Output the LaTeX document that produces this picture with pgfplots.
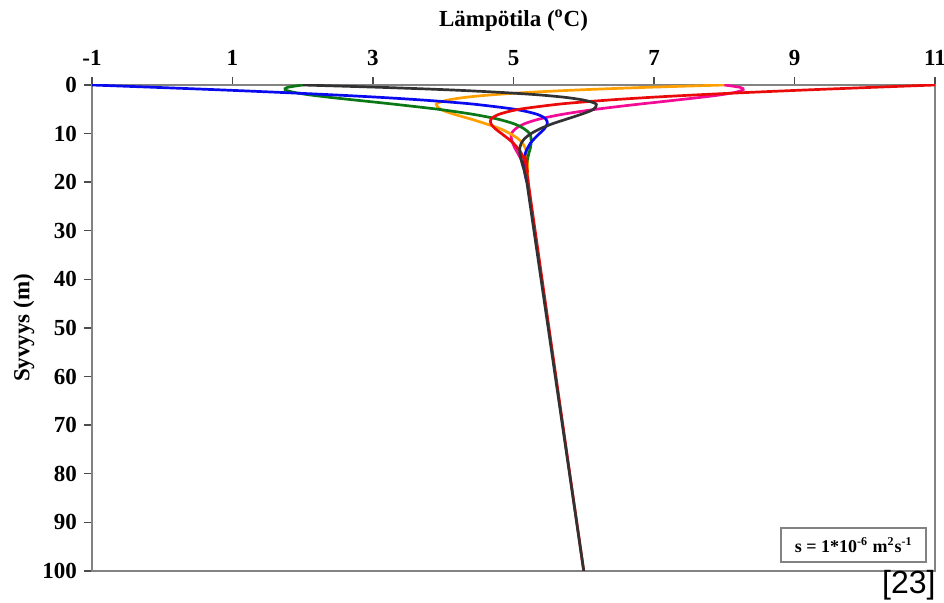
\documentclass[border=0pt]{standalone}
\usepackage{pgfplots}
\pgfplotsset{compat=1.18}
\usepackage{fontspec}
\setmainfont{Liberation Serif}
\newfontfamily\arialfont{Liberation Sans}
\definecolor{cblue}{RGB}{10,10,240}
\definecolor{cgreen}{RGB}{10,120,20}
\definecolor{corange}{RGB}{255,160,0}
\definecolor{cblack}{RGB}{50,50,50}
\definecolor{cred}{RGB}{235,10,10}
\definecolor{cmag}{RGB}{245,10,150}
\definecolor{axgray}{RGB}{130,130,130}
\begin{document}
\begin{tikzpicture}
\useasboundingbox (-46pt,-16pt) rectangle (426pt,285.5pt);
\begin{axis}[
  at={(0,0)}, anchor=south west,
  scale only axis, width=421.5pt, height=243pt,
  xmin=-1, xmax=11, ymin=0, ymax=100,
  y dir=reverse,
  xtick={-1,1,3,5,7,9,11},
  ytick={0,10,...,100},
  xtick pos=right, xticklabel pos=right,
  ytick pos=left,
  tick align=outside,
  major tick length=4pt,
  axis line style={axgray, line width=1.1pt},
  every tick/.style={black!70, line width=0.7pt},
  tick label style={font=\fontsize{11.5}{12}\selectfont\bfseries},
  xticklabel style={yshift=2pt},
  /pgf/number format/assume math mode=true,
  clip=true,
]
\addplot[cmag, line width=1.35pt, smooth] table {
8.00 0
8.23 0.5
8.27 1
8.16 1.5
7.96 2
7.69 2.5
7.38 3
7.07 3.5
6.75 4
6.17 5
5.71 6
5.37 7
5.15 8
5.03 9
4.97 10
4.97 11
4.99 12
5.02 13
5.06 14
5.13 16
5.18 18
5.21 20
};
\addplot[corange, line width=1.35pt, smooth] table {
8.00 0
6.86 0.5
5.95 1
5.24 1.5
4.71 2
4.34 2.5
4.10 3
3.96 3.5
3.90 4
3.96 5
4.15 6
4.39 7
4.61 8
4.81 9
4.95 10
5.06 11
5.13 12
5.17 13
5.19 14
5.20 16
5.20 18
5.21 20
};
\addplot[cgreen, line width=1.35pt, smooth] table {
2.00 0
1.78 0.5
1.75 1
1.87 1.5
2.08 2
2.36 2.5
2.68 3
3.01 3.5
3.33 4
3.93 5
4.41 6
4.77 7
5.01 8
5.15 9
5.23 10
5.25 11
5.25 12
5.24 13
5.22 14
5.19 16
5.18 18
5.20 20
};
\addplot[cblue, line width=1.35pt, smooth] table {
-1.00 0
-0.07 0.5
0.82 1
1.64 1.5
2.39 2
3.05 2.5
3.61 3
4.08 3.5
4.47 4
5.02 5
5.33 6
5.46 7
5.48 8
5.44 9
5.37 10
5.30 11
5.24 12
5.20 13
5.17 14
5.15 16
5.16 18
5.19 20
};
\addplot[cred, line width=1.35pt, smooth] table {
11.00 0
10.08 0.5
9.20 1
8.39 1.5
7.65 2
7.00 2.5
6.45 3
5.99 3.5
5.61 4
5.08 5
4.80 6
4.68 7
4.68 8
4.74 9
4.83 10
4.92 11
5.00 12
5.06 13
5.11 14
5.17 16
5.20 18
5.21 20
6.00 100
};
\addplot[cblack, line width=1.35pt, smooth] table {
2.00 0
3.15 0.5
4.08 1
4.79 1.5
5.33 2
5.71 2.5
5.96 3
6.11 3.5
6.18 4
6.14 5
5.97 6
5.76 7
5.55 8
5.38 9
5.25 10
5.16 11
5.11 12
5.09 13
5.09 14
5.12 16
5.16 18
5.19 20
};
\addplot[cblack, line width=1.35pt] table {
5.19 20
6.00 100
};
\end{axis}
\node[font=\fontsize{11.5}{12}\selectfont\bfseries] at (210.75pt,275pt) {Lämpötila (\textsuperscript{o}C)};
\node[font=\fontsize{11.5}{12}\selectfont\bfseries, rotate=90] at (-34pt,121.5pt) {Syvyys (m)};
\node[draw=axgray, line width=0.8pt, fill=white, anchor=south east, minimum width=72.5pt, minimum height=17pt, inner sep=2pt, font=\fontsize{9}{10}\selectfont\bfseries] at (417.5pt,4pt) {s = 1*10\textsuperscript{-6} m\textsuperscript{2}s\textsuperscript{-1}};
\node[anchor=base east, inner sep=0pt, font=\arialfont\fontsize{16}{18}\selectfont] at (422pt,-11.5pt) {[23]};
\end{tikzpicture}
\end{document}
